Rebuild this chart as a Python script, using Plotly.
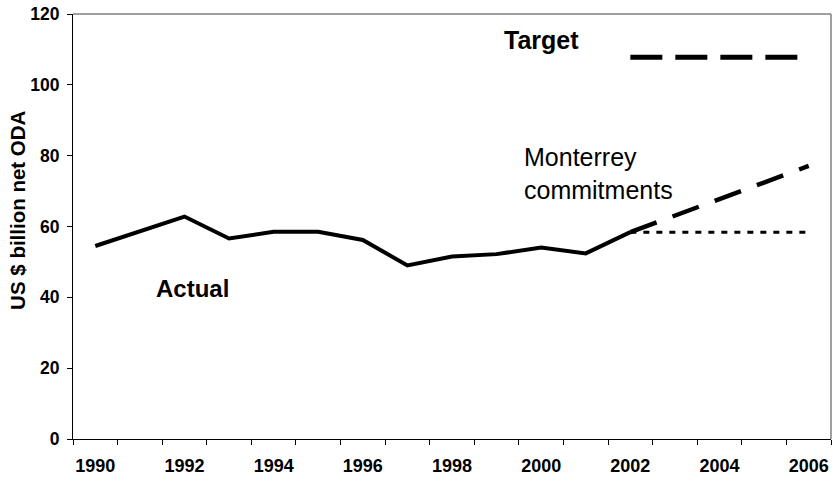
import plotly.graph_objects as go

# ---- data ----
years = list(range(1990, 2003))
actual = [54.5, 58.6, 62.8, 56.6, 58.5, 58.5, 56.2, 49.0, 51.5, 52.2, 54.1, 52.4, 58.4]

proj_years = [2002, 2003, 2004, 2005, 2006]
monterrey = [58.4, 63.0, 67.7, 72.4, 77.1]
flat = [58.4, 58.4, 58.4, 58.4, 58.4]
target = [107.8, 107.8, 107.8, 107.8, 107.8]

tick_years = list(range(1990, 2007, 2))
tick_labels = [str(y) for y in tick_years]
y_ticks = [0, 20, 40, 60, 80, 100, 120]

FONT = "Liberation Sans, Arial, sans-serif"

fig = go.Figure()
fig.add_trace(go.Scatter(x=years, y=actual, mode="lines",
                         line=dict(color="black", width=4), hoverinfo="skip"))
fig.add_trace(go.Scatter(x=proj_years, y=flat, mode="lines",
                         line=dict(color="black", width=3, dash="6px,7px"), hoverinfo="skip"))
fig.add_trace(go.Scatter(x=proj_years, y=monterrey, mode="lines",
                         line=dict(color="black", width=4.5, dash="28px,17px"), hoverinfo="skip"))
fig.add_trace(go.Scatter(x=proj_years, y=target, mode="lines",
                         line=dict(color="black", width=5, dash="32px,13px"), hoverinfo="skip"))

fig.update_layout(
    width=832, height=480,
    margin=dict(l=73, r=1, t=14, b=41),
    paper_bgcolor="white", plot_bgcolor="white",
    showlegend=False,
    font=dict(family=FONT, color="black"),
    xaxis=dict(
        range=[1989.5, 2006.5], showgrid=False, zeroline=False,
        showline=True, linecolor="black", linewidth=1,
        tickvals=tick_years, ticktext=tick_labels,
        ticks="outside", ticklen=5, tickcolor="rgba(0,0,0,0)",
        tickfont=dict(family=FONT, size=18, color="black", weight="bold"),
        ticklabelstandoff=5,
        minor=dict(tickvals=[y + 0.5 for y in range(1989, 2007)],
                   ticks="outside", ticklen=5, tickcolor="black", tickwidth=1),
    ),
    yaxis=dict(
        range=[0, 120], showgrid=False, zeroline=False,
        showline=True, linecolor="black", linewidth=1,
        tickvals=y_ticks,
        ticks="outside", ticklen=5, tickcolor="black", tickwidth=1,
        tickfont=dict(family=FONT, size=17.5, color="black", weight="bold"),
        ticklabelstandoff=4,
    ),
    shapes=[
        dict(type="line", xref="paper", yref="paper", x0=0, x1=1, y0=1, y1=1,
             line=dict(color="#808080", width=1.5)),
        dict(type="line", xref="paper", yref="paper", x0=1, x1=1, y0=0, y1=1,
             line=dict(color="#808080", width=1.5)),
    ],
    annotations=[
        dict(text="US $ billion net ODA", xref="paper", yref="paper",
             x=-0.0726, y=0.539, textangle=-90, showarrow=False,
             xanchor="center", yanchor="middle",
             font=dict(family=FONT, size=20.5, color="black", weight="bold")),
        dict(text="Target", xref="paper", yref="paper",
             x=(541 - 73) / 758, y=(439 - 40) / 425, showarrow=False,
             xanchor="center", yanchor="middle",
             font=dict(family=FONT, size=25, color="black", weight="bold")),
        dict(text="Monterrey<br>commitments", xref="paper", yref="paper",
             x=(522 - 73) / 758, y=(439 - 173) / 425, showarrow=False,
             xanchor="left", yanchor="middle", align="left",
             font=dict(family=FONT, size=25, color="black")),
        dict(text="Actual", xref="paper", yref="paper",
             x=(192 - 73) / 758, y=(439 - 288) / 425, showarrow=False,
             xanchor="center", yanchor="middle",
             font=dict(family=FONT, size=24, color="black", weight="bold")),
    ],
)

fig.write_html("out.html", config={"displayModeBar": False},
               post_script="document.body.style.margin='0';document.body.style.padding='0';")
